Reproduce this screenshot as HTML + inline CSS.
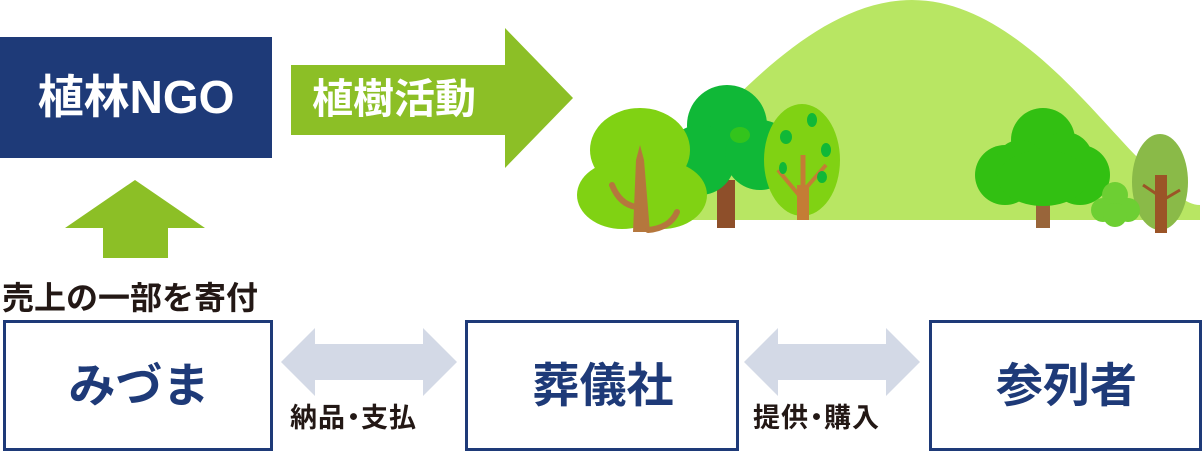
<!DOCTYPE html>
<html><head><meta charset="utf-8"><style>
html,body{margin:0;padding:0;background:#fff;}
body{width:1203px;height:454px;position:relative;overflow:hidden;font-family:"Liberation Sans","Noto Sans CJK JP",sans-serif;}
.t{position:absolute;font-weight:bold;white-space:nowrap;}
</style></head><body>
<svg width="1203" height="454" style="position:absolute;left:0;top:0">
<path d="M620,220 C700,140 800,0 912,0 C1010,0 1090,110 1140,160 C1170,190 1185,205 1200,205 L1200,220 Z" fill="#b8e663"/>
<rect x="0" y="37" width="272" height="121" fill="#1e3a78"/>
<polygon points="291,65 505,65 505,28 573,98 505,168 505,135 291,135" fill="#8cbf26"/>
<polygon points="135,180 205,228 168,228 168,258 103,258 103,228 65,228" fill="#8cbf26"/>
<rect x="4.5" y="321.5" width="267" height="128" fill="#fff" stroke="#1e3a78" stroke-width="3"/>
<rect x="466.5" y="321.5" width="271" height="128" fill="#fff" stroke="#1e3a78" stroke-width="3"/>
<rect x="930.5" y="321.5" width="270" height="128" fill="#fff" stroke="#1e3a78" stroke-width="3"/>
<polygon points="281,362 315,328 315,344 423,344 423,328 457,362 423,396 423,380 315,380 315,396" fill="#d3d9e6"/>
<polygon points="744,362 778,328 778,344 886,344 886,328 920,362 886,396 886,380 778,380 778,396" fill="#d3d9e6"/>
<rect x="717" y="180" width="18" height="48" fill="#8e4f2a"/>
<circle cx="727" cy="125" r="40" fill="#10b837"/>
<circle cx="700" cy="160" r="35" fill="#10b837"/>
<circle cx="760" cy="155" r="35" fill="#10b837"/>
<ellipse cx="740" cy="135" rx="10" ry="8" fill="#33c41c"/>
<ellipse cx="640" cy="150" rx="50" ry="42" fill="#80d213"/>
<ellipse cx="622" cy="195" rx="45" ry="34" fill="#80d213"/>
<ellipse cx="662" cy="195" rx="45" ry="34" fill="#80d213"/>
<polygon points="633,232 636,160 640,145 644,160 650,232" fill="#b5773d"/>
<path d="M612,185 Q620,205 637,207" stroke="#b5773d" stroke-width="6" fill="none" stroke-linecap="round"/>
<path d="M677,212 Q670,228 648,230" stroke="#b5773d" stroke-width="6" fill="none" stroke-linecap="round"/>
<ellipse cx="802" cy="160" rx="38" ry="56" fill="#80d213"/>
<rect x="797" y="185" width="12" height="35" fill="#c47d35"/>
<line x1="803" y1="190" x2="803" y2="155" stroke="#c47d35" stroke-width="5"/>
<line x1="803" y1="200" x2="778" y2="170" stroke="#c47d35" stroke-width="4"/>
<line x1="806" y1="188" x2="826" y2="165" stroke="#c47d35" stroke-width="4"/>
<ellipse cx="786" cy="137" rx="6" ry="7" fill="#10b837"/>
<ellipse cx="812" cy="120" rx="5" ry="7" fill="#10b837"/>
<ellipse cx="826" cy="150" rx="5" ry="7" fill="#10b837"/>
<ellipse cx="783" cy="168" rx="4" ry="6" fill="#10b837"/>
<ellipse cx="822" cy="177" rx="5" ry="6" fill="#10b837"/>
<rect x="1036" y="190" width="14" height="38" fill="#99653a"/>
<circle cx="1043" cy="140" r="32" fill="#32c012"/>
<circle cx="1005" cy="175" r="30" fill="#32c012"/>
<circle cx="1080" cy="175" r="30" fill="#32c012"/>
<circle cx="1020" cy="165" r="25" fill="#32c012"/>
<circle cx="1065" cy="160" r="28" fill="#32c012"/>
<ellipse cx="1043" cy="178" rx="45" ry="28" fill="#32c012"/>
<ellipse cx="1160" cy="182" rx="28" ry="48" fill="#8aba48"/>
<rect x="1155" y="175" width="12" height="58" fill="#9b5427"/>
<line x1="1158" y1="195" x2="1143" y2="185" stroke="#9b5427" stroke-width="3"/>
<line x1="1163" y1="200" x2="1180" y2="190" stroke="#9b5427" stroke-width="3"/>
<circle cx="1115" cy="195" r="13" fill="#6dcf33"/>
<circle cx="1103" cy="210" r="12" fill="#6dcf33"/>
<circle cx="1128" cy="210" r="12" fill="#6dcf33"/>
<circle cx="1115" cy="215" r="12" fill="#6dcf33"/>
</svg>
<div class="t" style="left:0;top:37px;width:272px;height:121px;line-height:121px;text-align:center;color:#fff;font-size:46px;">植林NGO</div>
<div class="t" style="left:312px;top:73px;line-height:52px;color:#fff;font-size:41px;">植樹活動</div>
<div class="t" style="left:2px;top:278px;color:#231815;font-size:32px;line-height:40px;">売上の一部を寄付</div>
<div class="t" style="left:4px;top:321px;width:270px;height:130px;line-height:130px;text-align:center;color:#1e3a78;font-size:47px;">みづま</div>
<div class="t" style="left:466px;top:321px;width:274px;height:130px;line-height:130px;text-align:center;color:#1e3a78;font-size:47px;">葬儀社</div>
<div class="t" style="left:930px;top:321px;width:273px;height:130px;line-height:130px;text-align:center;color:#1e3a78;font-size:47px;">参列者</div>
<div class="t" style="left:290px;top:400px;color:#231815;font-size:27px;line-height:36px;letter-spacing:1px;">納品<span style="letter-spacing:-6px;margin-left:-6px">・</span>支払</div>
<div class="t" style="left:753px;top:400px;color:#231815;font-size:27px;line-height:36px;letter-spacing:1px;">提供<span style="letter-spacing:-6px;margin-left:-6px">・</span>購入</div>
</body></html>
